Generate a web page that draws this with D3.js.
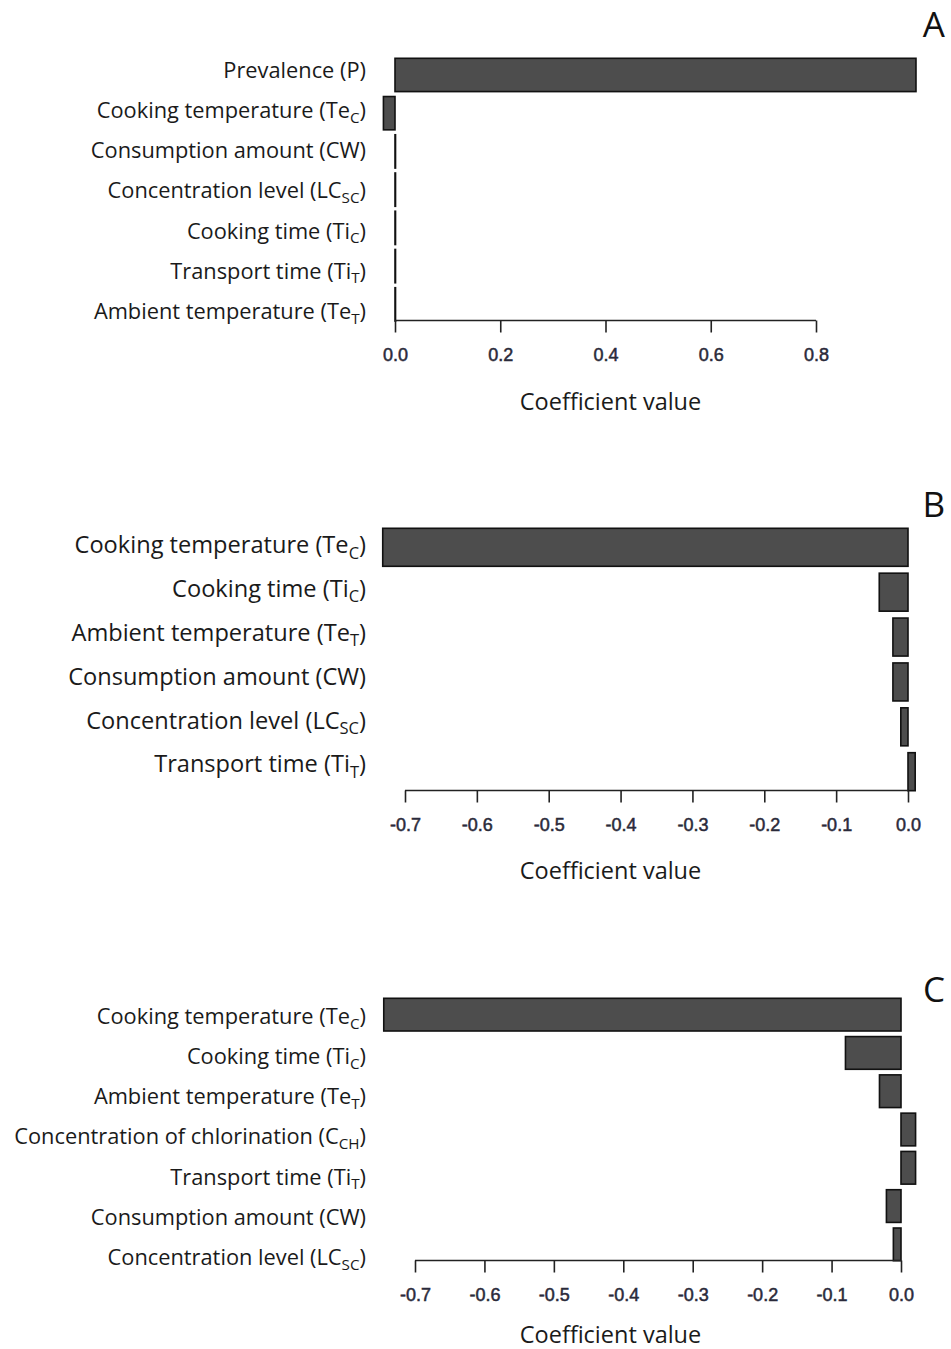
<!DOCTYPE html>
<html>
<head>
<meta charset="utf-8">
<script src="https://cdn.jsdelivr.net/npm/d3@7"></script>
<style>
  body { margin: 0; background: #fff; }
  svg { display: block; }
</style>
</head>
<body>
<div></div>
<script>
// panel A
var labelsA = ["Prevalence (P)", "Cooking temperature (Te_C)", "Consumption amount (CW)",
  "Concentration level (LC_SC)", "Cooking time (Ti_C)", "Transport time (Ti_T)", "Ambient temperature (Te_T)"];
var valuesA = [0.990, -0.022, 0.001, 0.001, 0.001, 0.001, 0.001];
var ticksA = [0, 0.2, 0.4, 0.6, 0.8];

// panel B
var labelsB = ["Cooking temperature (Te_C)", "Cooking time (Ti_C)", "Ambient temperature (Te_T)",
  "Consumption amount (CW)", "Concentration level (LC_SC)", "Transport time (Ti_T)"];
var valuesB = [-0.731, -0.040, -0.021, -0.021, -0.010, 0.010];
var ticksB = [-0.7, -0.6, -0.5, -0.4, -0.3, -0.2, -0.1, 0];

// panel C
var labelsC = ["Cooking temperature (Te_C)", "Cooking time (Ti_C)", "Ambient temperature (Te_T)",
  "Concentration of chlorination (C_CH)", "Transport time (Ti_T)", "Consumption amount (CW)",
  "Concentration level (LC_SC)"];
var valuesC = [-0.745, -0.080, -0.031, 0.021, 0.021, -0.021, -0.011];
var ticksC = [-0.7, -0.6, -0.5, -0.4, -0.3, -0.2, -0.1, 0];

var W = 951, H = 1349;
var labelFont = "'Open Sans', 'Noto Sans', sans-serif";
var tickFont = "'Liberation Sans', Arial, sans-serif";

var svg = d3.select("div").append("svg").attr("width", W).attr("height", H);

var panels = [
  { letter: "A", labels: labelsA, values: valuesA, ticks: ticksA,
    x0: 0, x1: 0.8, px0: 395, px1: 816,
    barTop: 58.3, barBottom: 321, barH: 33.3,
    labTop: 70, labBottom: 311, labSize: 21.8,
    axisY: 320.5, titleY: 402, letterY: 24 },
  { letter: "B", labels: labelsB, values: valuesB, ticks: ticksB,
    x0: -0.7, x1: 0, px0: 405, px1: 908,
    barTop: 528.3, barBottom: 790.7, barH: 38,
    labTop: 545, labBottom: 764, labSize: 23.6,
    axisY: 790.5, titleY: 871, letterY: 504 },
  { letter: "C", labels: labelsC, values: valuesC, ticks: ticksC,
    x0: -0.7, x1: 0, px0: 415, px1: 901,
    barTop: 998.3, barBottom: 1260.7, barH: 32.7,
    labTop: 1016, labBottom: 1257, labSize: 21.8,
    axisY: 1260.5, titleY: 1335, letterY: 989 }
];

panels.forEach(function(p) {
  var n = p.labels.length;
  var g = svg.append("g");

  var x = d3.scaleLinear().domain([p.x0, p.x1]).range([p.px0, p.px1]);
  var step = (p.barBottom - p.barTop - p.barH) / (n - 1);
  var y = d3.scaleBand()
    .domain(d3.range(n))
    .range([p.barTop, p.barBottom])
    .paddingInner(1 - p.barH / step)
    .paddingOuter(0);
  var yLab = d3.scalePoint().domain(d3.range(n)).range([p.labTop, p.labBottom]);

  // bars
  g.selectAll("rect.bar")
    .data(p.values)
    .enter()
    .append("rect")
    .attr("class", "bar")
    .attr("x", function(d) { return Math.min(x(0), x(d)); })
    .attr("y", function(d, i) { return y(i); })
    .attr("width", function(d) { return Math.abs(x(d) - x(0)); })
    .attr("height", y.bandwidth())
    .attr("fill", "#4d4d4d")
    .attr("stroke", "#111")
    .attr("stroke-width", 1.6);

  // category labels, with subscript after "_"
  var lab = g.selectAll("text.lab")
    .data(p.labels)
    .enter()
    .append("text")
    .attr("class", "lab")
    .attr("x", 366)
    .attr("y", function(d, i) { return yLab(i); })
    .attr("dy", "0.36em")
    .attr("text-anchor", "end")
    .style("font-family", labelFont)
    .style("font-size", p.labSize + "px")
    .attr("fill", "#1a1a1a");

  lab.each(function(d) {
    var t = d3.select(this);
    var k = d.indexOf("_");
    if (k < 0) { t.text(d); return; }
    var close = d.indexOf(")", k);
    t.append("tspan").text(d.slice(0, k));
    t.append("tspan").text(d.slice(k + 1, close))
      .style("font-size", (p.labSize * 0.7) + "px")
      .attr("dy", p.labSize * 0.22);
    t.append("tspan").text(d.slice(close))
      .attr("dy", -p.labSize * 0.22);
  });

  // x axis
  var axis = d3.axisBottom(x)
    .tickValues(p.ticks)
    .tickSize(12)
    .tickPadding(16)
    .tickFormat(function(d) { return d.toFixed(1); });

  var ax = g.append("g")
    .attr("transform", "translate(0," + p.axisY + ")")
    .call(axis);
  ax.select(".domain").remove();
  ax.append("line")
    .attr("x1", x(p.ticks[0]))
    .attr("x2", x(p.ticks[p.ticks.length - 1]))
    .attr("stroke", "#222")
    .attr("stroke-width", 1.6);
  ax.selectAll(".tick line").attr("stroke", "#222").attr("stroke-width", 1.6);
  ax.selectAll(".tick text")
    .style("font-family", tickFont)
    .style("font-size", "18px")
    .attr("fill", "#2a2a3a")
    .attr("stroke", "#2a2a3a")
    .attr("stroke-width", 0.5);

  g.append("text")
    .attr("x", 610.5)
    .attr("y", p.titleY)
    .attr("dy", "0.36em")
    .attr("text-anchor", "middle")
    .style("font-family", labelFont)
    .style("font-size", "23.5px")
    .attr("fill", "#1a1a1a")
    .text("Coefficient value");

  g.append("text")
    .attr("x", 945)
    .attr("y", p.letterY)
    .attr("dy", "0.36em")
    .attr("text-anchor", "end")
    .style("font-family", labelFont)
    .style("font-size", "35px")
    .attr("fill", "#111")
    .text(p.letter);
});
</script>
</body>
</html>
